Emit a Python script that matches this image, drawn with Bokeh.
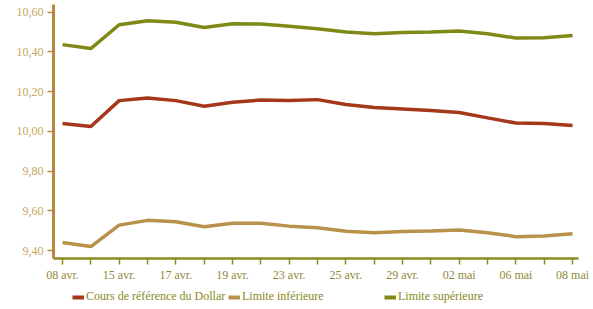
from bokeh.plotting import figure
from bokeh.layouts import column
from bokeh.models import FixedTicker, CustomJSTickFormatter, Legend, LegendItem, Range1d
from bokeh.embed import file_html
from bokeh.resources import INLINE

x_labels = ["08 avr.", "", "15 avr.", "", "17 avr.", "", "19 avr.", "", "23 avr.", "",
            "25 avr.", "", "29 avr.", "", "02 mai", "", "06 mai", "", "08 mai"]
cours = [10.04, 10.025, 10.155, 10.168, 10.155, 10.127, 10.147, 10.158, 10.155, 10.16,
         10.135, 10.12, 10.113, 10.105, 10.095, 10.068, 10.042, 10.04, 10.03]
limite_inf = [9.441, 9.42, 9.528, 9.552, 9.545, 9.52, 9.538, 9.537, 9.523, 9.515,
              9.497, 9.49, 9.496, 9.499, 9.503, 9.49, 9.47, 9.473, 9.485]
limite_sup = [10.437, 10.417, 10.537, 10.557, 10.55, 10.523, 10.542, 10.541, 10.53, 10.517,
              10.50, 10.492, 10.498, 10.50, 10.505, 10.492, 10.47, 10.472, 10.483]
y_ticks = [9.4, 9.6, 9.8, 10.0, 10.2, 10.4, 10.6]
series_names = ["Cours de référence du Dollar", "Limite inférieure", "Limite supérieure"]

FONT = "Liberation Serif"
RED = "#A5371A"
OLIVE = "#7F8A16"
TAN = "#B8924A"
GOLD = "#B58A3A"
colors = [RED, TAN, OLIVE]
series = [cours, limite_inf, limite_sup]

xs = list(range(len(x_labels)))

p = figure(width=593, height=284, output_backend="svg", toolbar_location=None,
           x_range=Range1d(-0.318, 18.21), y_range=Range1d(9.36, 10.639),
           min_border_left=53, min_border_right=15, min_border_top=4, min_border_bottom=26)
p.outline_line_color = None
p.grid.visible = False
p.background_fill_color = "white"
p.border_fill_color = "white"

for ys, c in zip(series, colors):
    p.line(xs, ys, line_color=c, line_width=3.5)

p.xaxis.ticker = FixedTicker(ticks=xs)
p.xaxis.major_label_overrides = {i: lab for i, lab in enumerate(x_labels)}
p.xaxis.axis_line_color = "#8E8C1E"
p.xaxis.axis_line_width = 2.5
p.xaxis.major_tick_line_color = "#8E8C1E"
p.xaxis.major_tick_line_width = 1.5
p.xaxis.major_tick_out = 6
p.xaxis.major_tick_in = 0
p.xaxis.minor_tick_line_color = None
p.xaxis.major_label_text_font = FONT
p.xaxis.major_label_text_font_size = "12px"
p.xaxis.major_label_text_color = "#8E8A3A"
p.xaxis.major_label_standoff = 3

p.yaxis.ticker = FixedTicker(ticks=y_ticks)
p.yaxis.formatter = CustomJSTickFormatter(code="return tick.toFixed(2).replace('.', ',');")
p.yaxis.axis_line_color = GOLD
p.yaxis.axis_line_width = 3
p.yaxis.major_tick_line_color = GOLD
p.yaxis.major_tick_line_width = 1.5
p.yaxis.major_tick_out = 6
p.yaxis.major_tick_in = 0
p.yaxis.minor_tick_line_color = None
p.yaxis.major_label_text_font = FONT
p.yaxis.major_label_text_font_size = "12px"
p.yaxis.major_label_text_color = "#C9A45A"
p.yaxis.major_label_standoff = 4

# legend strip below the chart (its series lie outside its own ranges, only the legend shows)
p2 = figure(width=593, height=25, output_backend="svg", toolbar_location=None,
            x_axis_type=None, y_axis_type=None, min_border=0,
            x_range=Range1d(0, 1), y_range=Range1d(0, 1))
p2.outline_line_color = None
p2.grid.visible = False
p2.border_fill_color = "white"
items = []
for name, ys, c in zip(series_names, series, colors):
    r = p2.line(xs, ys, line_color=c, line_width=4)
    items.append(LegendItem(label=name, renderers=[r]))

legend = Legend(items=items, orientation="horizontal", location=(19, 5))
legend.label_text_font = FONT
legend.label_text_font_size = "12px"
legend.label_text_color = "#8A8A22"
legend.glyph_width = 12
legend.glyph_height = 12
legend.label_width = 140
legend.label_height = 12
legend.label_standoff = 2
legend.spacing = 2
legend.padding = 0
legend.margin = 0
legend.border_line_color = None
legend.background_fill_alpha = 0
p2.add_layout(legend, "center")

layout = column(p, p2, spacing=0)
open("out.html", "w").write(file_html(layout, INLINE))
